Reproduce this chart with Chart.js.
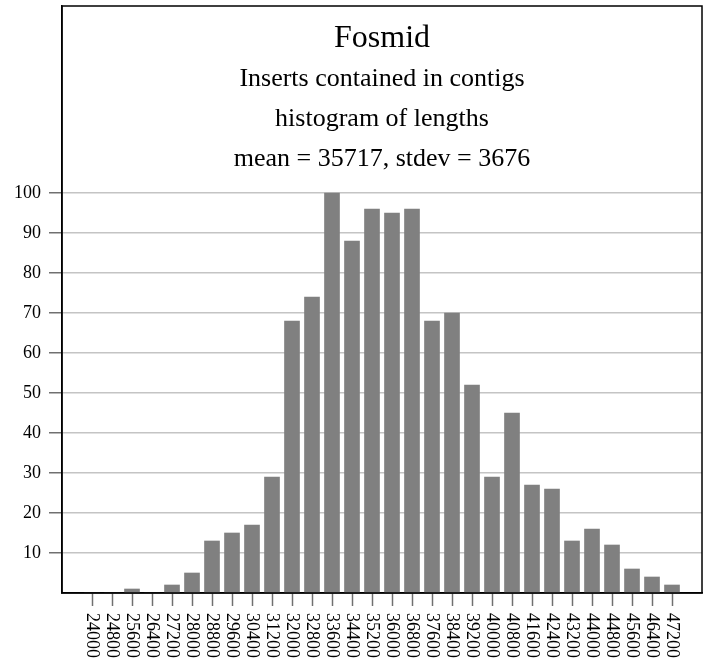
<!DOCTYPE html>
<html>
<head>
<meta charset="utf-8">
<title>Fosmid insert lengths</title>
<script src="https://cdn.jsdelivr.net/npm/chart.js@4/dist/chart.umd.min.js"></script>
<style>
  html, body { margin: 0; padding: 0; background: #ffffff; }
  canvas { display: block; }
</style>
</head>
<body>
<canvas id="hist" width="708" height="666"></canvas>
<script>
// Bin starts (insert length) and number of inserts in each bin
const binStarts = [
  24000, 24800, 25600, 26400, 27200, 28000, 28800, 29600, 30400, 31200,
  32000, 32800, 33600, 34400, 35200, 36000, 36800, 37600, 38400, 39200,
  40000, 40800, 41600, 42400, 43200, 44000, 44800, 45600, 46400, 47200
];
const binCounts = [
  0, 0, 1, 0, 2, 5, 13, 15, 17, 29,
  68, 74, 100, 88, 96, 95, 96, 68, 70, 52,
  29, 45, 27, 26, 13, 16, 12, 6, 4, 2
];
const yTickValues = [10, 20, 30, 40, 50, 60, 70, 80, 90, 100];
const titleLines = [
  'Fosmid',
  'Inserts contained in contigs',
  'histogram of lengths',
  'mean = 35717, stdev = 3676'
];

const SERIF = '"Liberation Serif", "DejaVu Serif", serif';

// Heading lines inside the framed plot, plus the rotated bin labels and the frame
const decorations = {
  id: 'decorations',
  afterDatasetsDraw(chart) {
    const { ctx, chartArea: a } = chart;
    ctx.save();
    ctx.strokeStyle = '#000';
    ctx.lineWidth = 1.5;
    ctx.strokeRect(a.left, a.top, a.right - a.left, a.bottom - a.top);
    ctx.restore();
  },
  afterDraw(chart) {
    const { ctx, chartArea: a, scales } = chart;
    const cx = (a.left + a.right) / 2;
    ctx.save();
    ctx.fillStyle = '#000';
    ctx.textAlign = 'center';
    ctx.textBaseline = 'alphabetic';
    const sizes = [32, 26, 26, 26];
    const baselines = [47, 86, 126, 166];
    titleLines.forEach((t, i) => {
      ctx.font = sizes[i] + 'px ' + SERIF;
      ctx.fillText(t, cx, baselines[i]);
    });

    // bin labels, turned a quarter clockwise and hung below the tick marks
    ctx.font = '18px ' + SERIF;
    ctx.textAlign = 'left';
    ctx.textBaseline = 'middle';
    const x = scales.x;
    const top = a.bottom + 20;
    binStarts.forEach(v => {
      ctx.save();
      ctx.translate(x.getPixelForValue(v), top);
      ctx.rotate(Math.PI / 2);
      ctx.fillText(String(v), 0, 0);
      ctx.restore();
    });
    ctx.restore();
  }
};

// keep the plot frame flush with the layout padding
function noEdgePadding(s) {
  s.paddingTop = 0;
  s.paddingBottom = 0;
  s.paddingLeft = 0;
  s.paddingRight = 0;
}

new Chart(document.getElementById('hist'), {
  type: 'bar',
  data: {
    datasets: [{
      data: binStarts.map((b, i) => ({ x: b, y: binCounts[i] })),
      backgroundColor: '#808080',
      borderWidth: 0,
      barThickness: 15
    }]
  },
  options: {
    responsive: false,
    animation: false,
    events: [],
    layout: { padding: { top: 6, right: 6, left: 0, bottom: 0 } },
    plugins: {
      legend: { display: false },
      tooltip: { enabled: false },
      title: { display: false }
    },
    scales: {
      x: {
        type: 'linear',
        min: 22800,
        max: 48400,
        offset: false,
        afterBuildTicks(s) { s.ticks = binStarts.map(v => ({ value: v })); },
        afterFit(s) { s.height = 73; noEdgePadding(s); },
        ticks: { display: false },
        grid: {
          offset: false,
          drawOnChartArea: false,
          drawTicks: true,
          tickLength: 13,
          tickColor: '#707070',
          tickWidth: 1.5
        },
        border: { display: true, color: '#000', width: 1.5 }
      },
      y: {
        type: 'linear',
        min: 0,
        max: 146.75,
        afterBuildTicks(s) { s.ticks = yTickValues.map(v => ({ value: v })); },
        afterFit(s) { s.width = 62; noEdgePadding(s); },
        ticks: {
          color: '#000',
          padding: 8,
          font: { family: SERIF, size: 18 }
        },
        grid: {
          color: '#c4c4c4',
          lineWidth: 1.5,
          drawTicks: true,
          tickLength: 13,
          tickColor: '#707070',
          tickWidth: 1.5
        },
        border: { display: true, color: '#000', width: 1.5 }
      }
    }
  },
  plugins: [decorations]
});
</script>
</body>
</html>
